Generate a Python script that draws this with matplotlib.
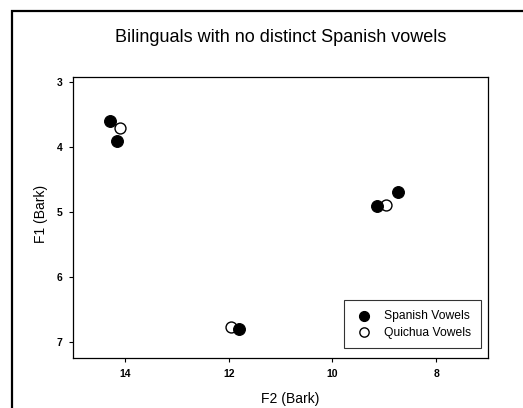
import matplotlib
matplotlib.use("Agg")
import matplotlib.pyplot as plt
from matplotlib.patches import Rectangle

plt.rcParams['font.family'] = ['Liberation Sans', 'DejaVu Sans']

title = "Bilinguals with no distinct Spanish vowels"
spanish_f2 = [14.30, 14.15, 11.81, 9.15, 8.73]
spanish_f1 = [3.61, 3.92, 6.81, 4.91, 4.70]
quichua_f2 = [14.10, 11.95, 8.97]
quichua_f1 = [3.72, 6.78, 4.90]
xticks = [14, 12, 10, 8]
yticks = [3, 4, 5, 6, 7]

fig = plt.figure(figsize=(5.23, 4.08), dpi=100)
fig.patch.set_facecolor('white')

# outer frame
fig.patches.append(Rectangle((12/523, -0.1), 1.2, 1 - 11/408 + 0.1,
                             transform=fig.transFigure, fill=False,
                             edgecolor='black', linewidth=1.6))

ax = fig.add_axes([73.3/523, 1 - 358/408, (488 - 73.3)/523, (358 - 77)/408])
ax.scatter(spanish_f2, spanish_f1, s=72, c='black', edgecolors='black',
           linewidths=0.8, label='Spanish Vowels', zorder=3)
ax.scatter(quichua_f2, quichua_f1, s=62, facecolors='white', edgecolors='black',
           linewidths=1.0, label='Quichua Vowels', zorder=2)

ax.set_xlim(15.0, 7.0)
ax.set_ylim(7.25, 2.93)
ax.set_xticks(xticks)
ax.set_yticks(yticks)
ax.tick_params(direction='out', length=3, width=0.8, labelsize=7.5, pad=5)
for lab in ax.get_xticklabels() + ax.get_yticklabels():
    lab.set_fontweight('bold')
for sp in ax.spines.values():
    sp.set_linewidth(0.9)

ax.set_xlabel('F2 (Bark)', fontsize=10)
ax.set_ylabel('F1 (Bark)', fontsize=10)
ax.xaxis.set_label_coords((290 - 73.3)/414.7, -(399.5 - 358)/281)
ax.yaxis.set_label_coords(-(73.3 - 41)/414.7, (358 - 213.5)/281)
ax.xaxis.label.set_va('center')
ax.yaxis.label.set_va('center')

fig.text(280.5/523, 1 - 38/408, title, ha='center', va='center', fontsize=13)

leg = ax.legend(loc='lower right', bbox_to_anchor=(0.983, 0.0345),
                borderaxespad=0, fontsize=8.7, frameon=True, fancybox=False,
                edgecolor='black', markerscale=0.85, handletextpad=0.75,
                borderpad=0.8, labelspacing=0.4, handlelength=1.8)
leg.get_frame().set_linewidth(0.8)

fig.savefig('out.png', dpi=100)
